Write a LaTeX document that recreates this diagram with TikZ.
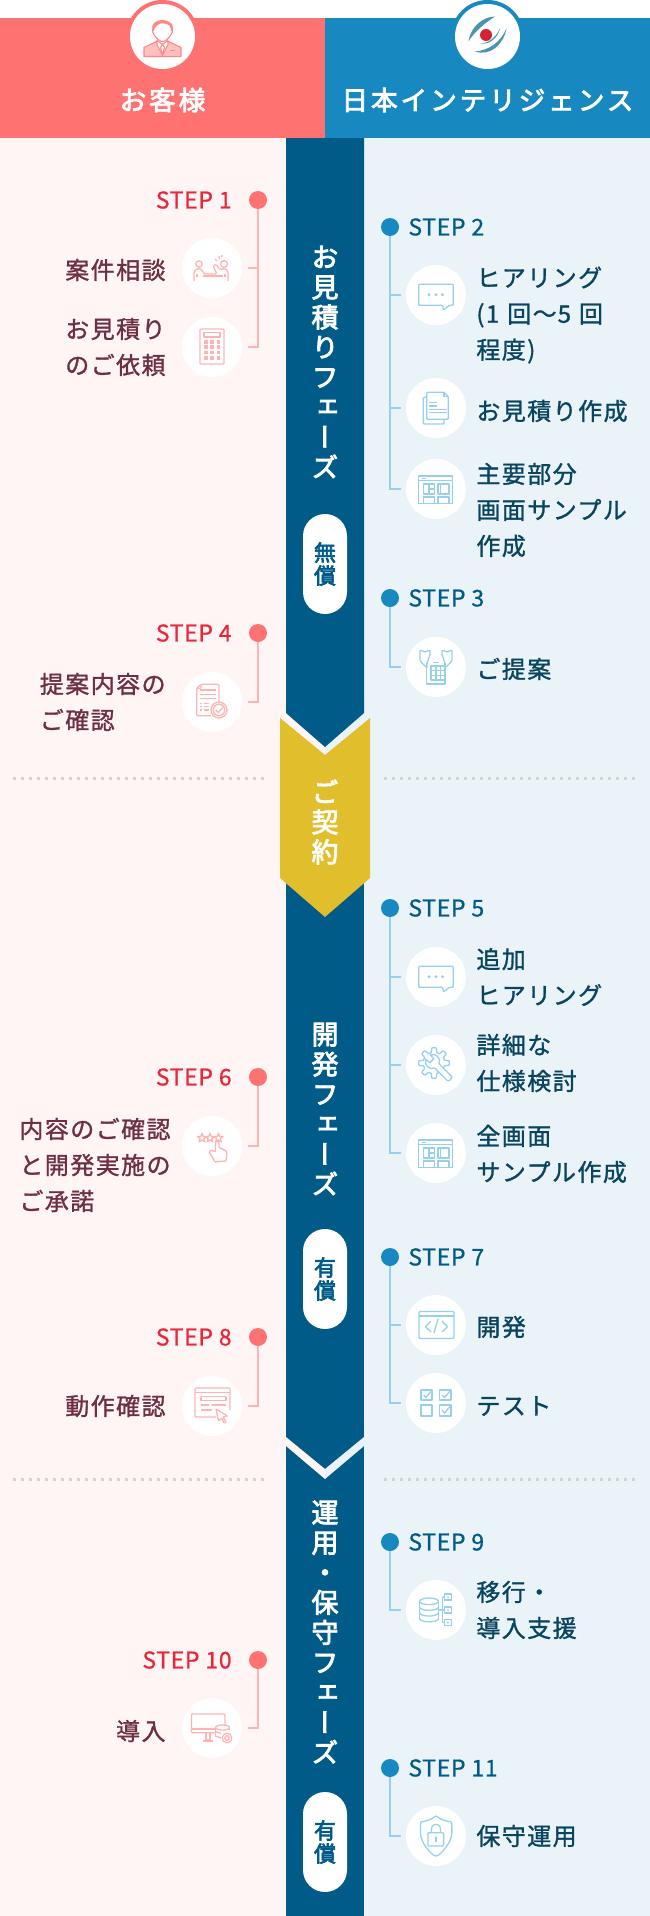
\documentclass[tikz,border=0pt]{standalone}
\usepackage{fontspec}
\setmainfont[LetterSpace=6,FakeBold=1.2]{Noto Sans CJK JP}
\newfontfamily\headfont[LetterSpace=11,FakeBold=3]{Noto Sans CJK JP}
\newfontfamily\stepfont[LetterSpace=3,FakeBold=0.8]{Noto Sans CJK JP}
\newfontfamily\bandfont[RawFeature=+vert,FakeBold=3]{Noto Sans CJK JP}
\usetikzlibrary{positioning}
\definecolor{flWarm}{HTML}{FFF5F4}
\definecolor{flCool}{HTML}{EAF3F7}
\definecolor{flCoral}{HTML}{FF7272}
\definecolor{flSky}{HTML}{1888C0}
\definecolor{flNavy}{HTML}{005B88}
\definecolor{flGold}{HTML}{E0BE2C}
\definecolor{flRed}{HTML}{E8273A}
\definecolor{flPlum}{HTML}{6E2F42}
\definecolor{flInk}{HTML}{0A4560}
\definecolor{flPinkLine}{HTML}{FFB4B4}
\definecolor{flBlueLine}{HTML}{96D0EE}
\definecolor{flDots}{HTML}{D6D1D1}
\definecolor{flSwoosh}{HTML}{4A93B5}
\tikzset{
pinkico/.style={color=flPinkLine,line width=1.3pt,line join=round},
blueico/.style={color=flBlueLine,line width=1.3pt,line join=round},
pics/icoMeeting/.style={code={
\draw (-13,-4) circle [radius=3.2pt];\draw (12,-4) circle [radius=3.4pt];
\draw[rounded corners=1.5pt] (-18,13)--(-18,3)--(-13,0)--(-10,2)--(-8,6)--(-1,6);
\draw[rounded corners=1.5pt] (16,13)--(16,3)--(12,0)--(8,2)--(4,-4)--(1,-2)--(5,6)--(-1,6);
\draw (-9,8)--(11,8);\draw (-15,6)--(-15,9);\draw (13,6)--(13,9);
\draw (3,-9)--(5,-7);\draw (7,-12)--(7.5,-9);\draw (10,-13)--(9.5,-11);}},
pics/icoCalc/.style={code={
\draw[rounded corners=1pt] (-12,-18) rectangle (12,17);
\draw (-8,-14.5) rectangle (8,-10);
\foreach \cx in {-6.3,0,6.3}{\foreach \cy in {-5.3,0.2,5.3,10.7}{\fill (\cx-1.8,\cy-1.8) rectangle (\cx+1.8,\cy+1.8);}}}},
pics/icoChat/.style={code={
\draw[rounded corners=1pt] (-17.3,-10.7)--(17.3,-10.7)--(17.3,10.3)--(13.5,10.3)--(7.3,15)--(6.7,10.3)--(-17.3,10.3)--cycle;
\fill (-7,-0.3) circle [radius=1.6pt];\fill (0,-0.3) circle [radius=1.6pt];\fill (6.5,-0.3) circle [radius=1.6pt];}},
pics/icoDocs/.style={code={
\draw[rounded corners=1pt] (-9.3,-10.7)--(-12.7,-10.7)--(-12.7,16)--(8,16)--(8,11.3);
\draw[rounded corners=1pt] (-9.3,-15.7)--(8,-15.7)--(12.3,-11.5)--(12.3,11.3)--(-9.3,11.3)--cycle;
\draw (8,-15.7)--(8,-11.5)--(12.3,-11.5);
\draw (-7.3,-5.3)--(0.7,-5.3);\draw (-7.3,-2)--(0.7,-2);\draw (-7.3,1.3)--(10.7,1.3);\draw (-7.3,4.7)--(10.7,4.7);}},
pics/icoWire/.style={code={
\draw (-17.3,-13) rectangle (16.7,14.3);\draw (-17.3,-8.3)--(16.7,-8.3);\draw (-14.5,-10.8)--(-10,-10.8);
\draw (-12.7,-5) rectangle (-1.7,5);\draw (-7,-5)--(-7,5);\draw (-7,0)--(-1.7,0);
\draw (2,-5) rectangle (13,5);\draw (4.5,-5)--(4.5,5);
\draw (-12.7,14.3)--(-12.7,8)--(-1.7,8)--(-1.7,14.3);\draw (2,14.3)--(2,8)--(13,8)--(13,14.3);}},
pics/icoCheckDoc/.style={code={
\draw[rounded corners=1pt] (-11,-17.7)--(7,-17.7)--(7,-1);\draw[rounded corners=1pt] (-1,13.7)--(-15.3,13.7)--(-15.3,-13.5)--(-11,-17.7)--(-11,-13.5)--(-15.3,-13.5);
\draw (-12,-12)--(3.7,-12);\draw (-12,-7.7)--(3.7,-7.7);\draw (-12,-3.7)--(3.7,-3.7);
\draw (-12,1.3)--(-10.5,1.3);\draw (-8.5,1.3)--(-3,1.3);\draw (-12,4.7)--(-10.5,4.7);\draw (-8.5,4.7)--(-3,4.7);\draw (-12,8)--(-10.5,8);\draw (-8.5,8)--(-3,8);
\draw (7,8) circle [radius=8pt];\draw (7,8) circle [radius=5.8pt];\draw (3.8,8)--(6.2,10.8)--(10.8,5);}},
pics/icoHands/.style={code={
\draw (-9.3,-4)--(-9.3,17)--(9,17)--(9,-4);\draw (-3,-4.5)--(3,-4.5);
\draw (-5,-1) rectangle (9,13);\draw (-5,3.7)--(9,3.7);\draw (-5,8.3)--(9,8.3);\draw (0,-1)--(0,13);\draw (4.5,-1)--(4.5,13);
\draw[rounded corners=1pt] (-16,-17)--(-11,-15)--(-6,-17)--(-6,-12)--(-9,-4)--(-9,1)--(-16,-6)--cycle;
\draw[rounded corners=1pt] (16,-17)--(11,-15)--(6,-17)--(6,-12)--(9,-4)--(9,1)--(16,-6)--cycle;}},
pics/icoGear/.style={code={
\draw plot[domain=0:360,samples=121] ({-2+(13+2.3*min(1,max(-1,2.5*cos(8*\x))))*cos(\x)},{-2+(13+2.3*min(1,max(-1,2.5*cos(8*\x))))*sin(\x)})--cycle;
\begin{scope}[shift={(-3.5,-3.5)},rotate=-45]
\draw[fill=white] (-6.3,-3)--(-1,-3)--(-1,3)--(-6.3,3) .. controls (-5.5,6) and (-2,7.2) .. (0,7.2) .. controls (3,7.2) and (5.5,5.5) .. (6.3,3)--(24,3) .. controls (26,3) and (26,-3) .. (24,-3)--(6.3,-3) .. controls (5.5,-5.5) and (3,-7.2) .. (0,-7.2) .. controls (-2,-7.2) and (-5.5,-6) .. (-6.3,-3)--cycle;
\end{scope}}},
pics/icoStars/.style={code={
\foreach \sx in {-10,-2,6.5}{\draw plot[samples at={-90,-54,...,234}] ({\sx+(4.8-2.8*mod((\x+90)/36,2))*cos(\x)},{-8+(4.8-2.8*mod((\x+90)/36,2))*sin(\x)})--cycle;}
\draw[fill=white,rounded corners=1pt] (3.5,6)--(3.5,-4)--(6,-5)--(7,-4)--(7,2)--(9,2)--(9.5,3.2)--(11.5,3.2)--(12,4.2)--(14,4.7)--(15,8)--(14,15)--(3,16)--(1,12)--(-3,6)--(-1,4)--cycle;}},
pics/icoForm/.style={code={
\draw[rounded corners=1pt] (4,11)--(-17,11)--(-17,-18)--(18,-18)--(18,4);
\draw (-17,-13.5)--(18,-13.5);\draw (-11,-9.5)--(14,-9.5);\draw (-11,-9.5)--(-11,-5.5)--(14,-5.5)--(14,-9.5);
\draw (-11,-1)--(-3,-1);\draw (0,-1)--(14,-1);\draw (-11,4)--(0,4);
\draw[rounded corners=0.5pt] (4,3)--(15.5,10)--(11,11)--(14,16)--(12,17)--(9.5,12)--(6.5,15)--cycle;}},
pics/icoCode/.style={code={
\draw[rounded corners=1pt] (-17,-13.5) rectangle (18,13.5);\draw (-17,-9)--(18,-9);
\draw (-5,-4)--(-10.5,1.7)--(-5,7);\draw (2,-6)--(-2,8);\draw (6,-4)--(11.5,1.7)--(6,7);}},
pics/icoTest/.style={code={
\draw (-15,-13) rectangle (-4,-3);\draw (3.5,-13) rectangle (15,-3);\draw (-15,2) rectangle (-4,13);\draw (3.5,2) rectangle (15,13);
\draw (-12.5,-8)--(-10,-5.5)--(-5.5,-11.5);\draw (6,-8)--(8.5,-5.5)--(14,-12);\draw (6,7)--(8.5,10)--(14,3.5);}},
pics/icoData/.style={code={
\draw (-7,-8.7) circle [x radius=9.5pt,y radius=3.3pt];
\draw (-16.4,-8.7)--(-16.4,8.5);\draw (2.4,-8.7)--(2.4,8.5);
\draw plot[domain=0:180,samples=16] ({-7+9.4*cos(\x)},{-3+3.3*sin(\x)});
\draw plot[domain=0:180,samples=16] ({-7+9.4*cos(\x)},{2.7+3.3*sin(\x)});
\draw plot[domain=0:180,samples=16] ({-7+9.4*cos(\x)},{8.5+3.3*sin(\x)});
\draw (6.8,-13)--(6.8,12.7);\draw (2.4,0)--(8.4,0);\draw (6.8,-13)--(8.4,-13);\draw (6.8,12.7)--(8.4,12.7);
\draw (8.4,-16) rectangle (15.5,-10);\draw (8.4,-3) rectangle (15.5,3);\draw (8.4,9.7) rectangle (15.5,15.7);
\fill (12,-13) circle [radius=1pt];\fill (12,0) circle [radius=1pt];\fill (12,12.7) circle [radius=1pt];}},
pics/icoServer/.style={code={
\draw[rounded corners=1pt] (3,4.7)--(-20.5,4.7)--(-20.5,-14)--(13,-14)--(13,-3);
\draw (-20.5,1)--(3,1);\draw (-6,4.7)--(-6,12)--(-2,12)--(-2,4.7);\draw (-9,13)--(1,13);
\draw (10.5,-0.5) circle [x radius=7pt,y radius=2.5pt];
\draw (3.5,-0.5)--(3.5,9);\draw (17.5,-0.5)--(17.5,2);\draw (3.5,3.5)--(9,5.5);\draw (3.5,8)--(9,10);
\draw[fill=white] (15,10) circle [radius=4.8pt];\draw (15,10) circle [radius=2.3pt];}},
pics/icoLock/.style={code={
\draw plot[smooth,tension=0.5] coordinates {(0,-20) (7,-16) (15.5,-14)};
\draw plot[smooth,tension=0.5] coordinates {(0,-20) (-7,-16) (-15.2,-14)};
\draw plot[smooth,tension=0.6] coordinates {(15.5,-14) (15.5,0) (10,11) (0,20) (-10,11) (-15.2,0) (-15.2,-14)};
\draw (-4.5,-3.5)--(-4.5,-7) plot[domain=180:360,samples=12] ({4.5*cos(\x)},{-7+4.5*sin(\x)})--(4.5,-3.5);
\draw[rounded corners=0.8pt] (-8,-3.3) rectangle (7.6,10);
\fill (0,2) circle [radius=1.7pt];\draw (0,2)--(0,6);}},
pics/icoPerson/.style={code={
\draw[fill=#1!45!white] (-18.5,20)--(-18.5,11)--(-6,5)--(0,8)--(6,5)--(18.5,11)--(18.5,20)--cycle;
\draw[fill=white] (-5.5,4)--(-5.5,8)--(0,19)--(5.5,8)--(5.5,4)--(0,8)--cycle;
\draw (0,8)--(-2,11)--(0,19)--(2,11)--cycle;
\draw (7.5,14)--(12,14);
\draw[fill=white] plot[smooth cycle,tension=0.7] coordinates {(-9.5,-9) (-8,-1) (0,5) (8,-1) (9.5,-9) (0,-16)};
\fill plot[smooth cycle,tension=0.7] coordinates {(-10,-8) (-9,-13) (0,-16.5) (9,-13) (10,-8) (8.5,-5) (7,-11) (-2,-13) (-8,-8) (-8.5,-5)};}},
pics/icoLogo/.style={code={
\fill[flSwoosh] (-19,5) .. controls (-17,-10) and (-4,-20) .. (7.5,-20) .. controls (-3,-13) and (-13,-5) .. (-19,5) -- cycle;
\fill[flSwoosh] (-12.5,15) .. controls (3,20) and (16,8) .. (19,-8) .. controls (13,6) and (1,14) .. (-12.5,15) -- cycle;
\fill[flSwoosh] (-6.5,7) .. controls (2,8) and (10,2) .. (12.5,-8) .. controls (8,2) and (0,6.5) .. (-6.5,7) -- cycle;
\fill[flRed!90!black] (-1.5,-1.5) circle [radius=6pt];}}
}
\begin{document}
\begin{tikzpicture}[x=1pt,y=-1pt,node distance=16pt and 16pt,
roundel/.style={circle,fill=white,minimum size=60pt,inner sep=0pt},
pinkdot/.style={circle,fill=flCoral,minimum size=18pt,inner sep=0pt},
bluedot/.style={circle,fill=flSky,minimum size=18pt,inner sep=0pt},
pinkstep/.style={text=flRed,inner sep=0pt,font=\stepfont\fontsize{23}{26}\selectfont},
bluestep/.style={text=flNavy,inner sep=0pt,font=\stepfont\fontsize{23}{26}\selectfont},
pinktext/.style={text=flPlum,inner sep=0pt,align=left,font=\fontsize{24}{36}\selectfont},
bluetext/.style={text=flInk,inner sep=0pt,align=left,font=\fontsize{24}{36}\selectfont},
pinkwire/.style={draw=flPinkLine,line width=2.5pt},
bluewire/.style={draw=flBlueLine,line width=2.5pt},
bandtext/.style={text=white,inner sep=0pt,align=center,font=\bandfont\fontsize{27}{30}\selectfont},
pill/.style={fill=white,rounded corners=22pt,minimum width=44pt,minimum height=100pt,inner sep=0pt,text=flNavy,align=center,font=\bandfont\fontsize{22}{23}\selectfont},
headtext/.style={text=white,inner sep=0pt,font=\headfont\fontsize{26.6}{30}\selectfont},
rule/.style={draw=flDots,line width=3pt,dash pattern=on 3pt off 5pt}]
\useasboundingbox (0,0) rectangle (650,1916);
\fill[white] (0,0) rectangle (650,1916);
\fill[flWarm] (0,138) rectangle (325,1916);
\fill[flCool] (325,138) rectangle (650,1916);
\fill[flNavy] (286,138)--(364,138)--(364,713)--(325,747)--(286,713)--cycle;
\fill[flNavy] (286,800) rectangle (364,1916);
\fill[flWarm] (286,1437)--(325,1469)--(325,1479)--(286,1446)--cycle;
\fill[flCool] (364,1437)--(325,1469)--(325,1479)--(364,1446)--cycle;
\fill[flGold] (280,718)--(325,755)--(370,718)--(370,878)--(325,917)--(280,878)--cycle;
\draw[rule] (13,778)--(264,778);\draw[rule] (384,778)--(635,778);
\draw[rule] (13,1479)--(264,1479);\draw[rule] (384,1479)--(635,1479);

\fill[flCoral] (162.5,36.5) circle [radius=36.5pt];
\fill[flSky] (487.5,36.5) circle [radius=36.5pt];
\fill[flCoral] (0,18) rectangle (325,138);
\fill[flSky] (325,18) rectangle (650,138);
\node[roundel,minimum size=65pt] (guest) at (162.5,36.5) {};
\node[roundel,minimum size=65pt] (firm) at (487.5,36.5) {};
\pic[color=flCoral!85!white,line width=1.1pt,line join=round] at (guest) {icoPerson=flCoral};
\pic at (firm) {icoLogo};
\node[headtext] (guesthead) at (162.5,100) {お客様};
\node[headtext] (firmhead) at (487.5,100) {日本インテリジェンス};

\node[bandtext] (band1) at (325,362) {お\\見\\積\\り\\フ\\ェ\\ー\\ズ};
\node[pill] (price1) at (325,564) {無\\償};
\node[bandtext,text=white] (sign) at (325,822) {ご\\契\\約};
\node[bandtext] (band2) at (325,1109) {開\\発\\フ\\ェ\\ー\\ズ};
\node[pill] (price2) at (325,1279) {有\\償};
\node[bandtext] (band3) at (325,1632) {運\\用\\・\\保\\守\\フ\\ェ\\ー\\ズ};
\node[pill] (price3) at (325,1842) {有\\償};

\node[pinkdot] (d1) at (258,200) {};
\node[pinkstep,left=17pt of d1] (s1) {STEP 1};
\node[roundel] (i1) at (212,268) {};
\node[roundel] (i2) at (212,347) {};
\node[pinktext,left=of i1,yshift=-2pt] (t1) {案件相談};
\node[pinktext,left=of i2] (t2) {お見積り\\のご依頼};
\pic[pinkico] at (i1) {icoMeeting};
\pic[pinkico] at (i2) {icoCalc};
\draw[pinkwire] (d1) |- ([xshift=6pt]i2.east);
\draw[pinkwire] (d1 |- i1) -- ([xshift=6pt]i1.east);

\node[pinkdot] (d4) at (258,633) {};
\node[pinkstep,left=17pt of d4] (s4) {STEP 4};
\node[roundel] (i4) at (212,702) {};
\node[pinktext,left=of i4] (t4) {提案内容の\\ご確認};
\pic[pinkico] at (i4) {icoCheckDoc};
\draw[pinkwire] (d4) |- ([xshift=6pt]i4.east);

\node[pinkdot] (d6) at (258,1077) {};
\node[pinkstep,left=17pt of d6] (s6) {STEP 6};
\node[roundel] (i6) at (212,1146) {};
\node[pinktext,left=11pt of i6,yshift=-19pt] (t6) {内容のご確認\\と開発実施の\\ご承諾};
\pic[pinkico] at (i6) {icoStars};
\draw[pinkwire] (d6) |- ([xshift=6pt]i6.east);

\node[pinkdot] (d8) at (258,1337) {};
\node[pinkstep,left=17pt of d8] (s8) {STEP 8};
\node[roundel] (i8) at (212,1406) {};
\node[pinktext,left=of i8] (t8) {動作確認};
\pic[pinkico] at (i8) {icoForm};
\draw[pinkwire] (d8) |- ([xshift=6pt]i8.east);

\node[pinkdot] (d10) at (258,1660) {};
\node[pinkstep,left=17pt of d10] (s10) {STEP 10};
\node[roundel] (i10) at (212,1728) {};
\node[pinktext,left=of i10,yshift=-3pt] (t10) {導入};
\pic[pinkico] at (i10) {icoServer};
\draw[pinkwire] (d10) |- ([xshift=6pt]i10.east);

\node[bluedot] (d2) at (390,227) {};
\node[bluestep,right=9pt of d2] (s2) {STEP 2};
\node[roundel] (r1) at (436,295) {};
\node[roundel] (r2) at (436,408) {};
\node[roundel] (r3) at (436,489) {};
\node[bluetext,right=10pt of r1,yshift=-20pt] (u1) {ヒアリング\\(1\hspace{8pt}回〜\hspace{1pt}5\hspace{8pt}回\\程度)};
\node[bluetext,right=10pt of r2,yshift=-3pt] (u2) {お見積り作成};
\node[bluetext,right=10pt of r3,yshift=-21pt] (u3) {主要部分\\画面サンプル\\作成};
\pic[blueico] at (r1) {icoChat};
\pic[blueico] at (r2) {icoDocs};
\pic[blueico] at (r3) {icoWire};
\draw[bluewire] (d2) |- ([xshift=-5pt]r3.west);
\draw[bluewire] (d2 |- r1) -- ([xshift=-5pt]r1.west);
\draw[bluewire] (d2 |- r2) -- ([xshift=-5pt]r2.west);

\node[bluedot] (d3) at (390,598) {};
\node[bluestep,right=9pt of d3] (s3) {STEP 3};
\node[roundel] (r4) at (436,667) {};
\node[bluetext,right=10pt of r4,yshift=-2pt] (u4) {ご提案};
\pic[blueico] at (r4) {icoHands};
\draw[bluewire] (d3) |- ([xshift=-5pt]r4.west);

\node[bluedot] (d5) at (390,908) {};
\node[bluestep,right=9pt of d5] (s5) {STEP 5};
\node[roundel] (r5) at (436,977) {};
\node[roundel] (r6) at (436,1065) {};
\node[roundel] (r7) at (436,1153) {};
\node[bluetext,right=10pt of r5] (u5) {追加\\ヒアリング};
\node[bluetext,right=10pt of r6,yshift=2pt] (u6) {詳細な\\仕様検討};
\node[bluetext,right=10pt of r7,yshift=-1pt] (u7) {全画面\\サンプル作成};
\pic[blueico] at (r5) {icoChat};
\pic[blueico] at (r6) {icoGear};
\pic[blueico] at (r7) {icoWire};
\draw[bluewire] (d5) |- ([xshift=-5pt]r7.west);
\draw[bluewire] (d5 |- r5) -- ([xshift=-5pt]r5.west);
\draw[bluewire] (d5 |- r6) -- ([xshift=-5pt]r6.west);

\node[bluedot] (d7) at (390,1257) {};
\node[bluestep,right=9pt of d7] (s7) {STEP 7};
\node[roundel] (r8) at (436,1325) {};
\node[roundel] (r9) at (436,1403) {};
\node[bluetext,right=10pt of r8,yshift=-2pt] (u8) {開発};
\node[bluetext,right=10pt of r9,yshift=-3pt] (u9) {テスト};
\pic[blueico] at (r8) {icoCode};
\pic[blueico] at (r9) {icoTest};
\draw[bluewire] (d7) |- ([xshift=-5pt]r9.west);
\draw[bluewire] (d7 |- r8) -- ([xshift=-5pt]r8.west);

\node[bluedot] (d9) at (390,1542) {};
\node[bluestep,right=9pt of d9] (s9) {STEP 9};
\node[roundel] (r10) at (436,1610) {};
\node[bluetext,right=10pt of r10] (u10) {移行・\\導入支援};
\pic[blueico] at (r10) {icoData};
\draw[bluewire] (d9) |- ([xshift=-5pt]r10.west);

\node[bluedot] (d11) at (390,1768) {};
\node[bluestep,right=9pt of d11] (s11) {STEP 11};
\node[roundel] (r11) at (436,1836) {};
\node[bluetext,right=10pt of r11] (u11) {保守運用};
\pic[blueico] at (r11) {icoLock};
\draw[bluewire] (d11) |- ([xshift=-5pt]r11.west);
\end{tikzpicture}
\end{document}
